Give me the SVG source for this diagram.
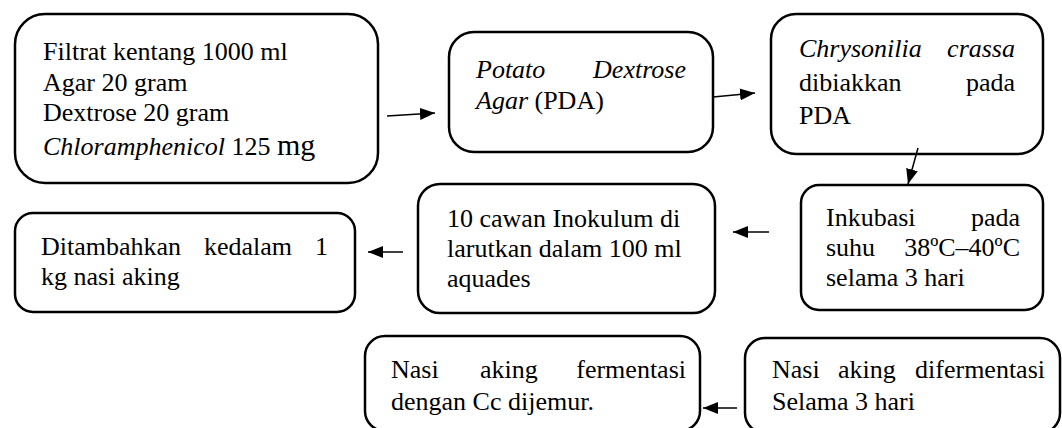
<svg xmlns="http://www.w3.org/2000/svg" width="1062" height="428" viewBox="0 0 1062 428">
<style>
.box{fill:#fff;stroke:#000;stroke-width:2.5}
text{font-family:"Liberation Serif","Times New Roman",serif;font-size:26px;fill:#000}
.i{font-style:italic}
.e{text-anchor:end}
.c line{stroke:#000;stroke-width:1.5;marker-end:url(#ah)}
</style>
<defs>
<marker id="ah" markerUnits="userSpaceOnUse" markerWidth="16" markerHeight="12" refX="15" refY="6" orient="auto">
<path d="M0,0 L15,6 L0,12 Z" fill="#000"/>
</marker>
</defs>
<rect width="1062" height="428" fill="#fff"/>
<g id="n1">
<rect class="box" x="15" y="14" width="363" height="169" rx="30"/>
<text x="43" y="60">Filtrat kentang 1000 ml</text>
<text x="43" y="91">Agar 20 gram</text>
<text x="43" y="121">Dextrose 20 gram</text>
<text x="43" y="155"><tspan class="i">Chloramphenicol</tspan> 125 <tspan style="font-size:30px">mg</tspan></text>
</g>
<g id="n2">
<rect class="box" x="449" y="32" width="264" height="120" rx="25"/>
<text class="i" x="476" y="78">Potato</text>
<text class="i e" x="686" y="78">Dextrose</text>
<text x="476" y="109"><tspan class="i">Agar</tspan> (PDA)</text>
</g>
<g id="n3">
<rect class="box" x="771" y="14" width="272" height="140" rx="25"/>
<text class="i" x="799" y="57">Chrysonilia</text>
<text class="i e" x="1015" y="57">crassa</text>
<text x="799" y="91">dibiakkan</text>
<text class="e" x="1015" y="91">pada</text>
<text x="799" y="124">PDA</text>
</g>
<g id="n4">
<rect class="box" x="801" y="185" width="242" height="125" rx="18"/>
<text x="826" y="226">Inkubasi</text>
<text class="e" x="1020" y="226">pada</text>
<text x="826" y="256">suhu</text>
<text class="e" x="1020" y="256">38ºC–40ºC</text>
<text x="826" y="286">selama 3 hari</text>
</g>
<g id="n5">
<rect class="box" x="418" y="184" width="297" height="129" rx="22"/>
<text x="447" y="227">10 cawan Inokulum di</text>
<text x="447" y="257">larutkan dalam 100 ml</text>
<text x="447" y="287">aquades</text>
</g>
<g id="n6">
<rect class="box" x="15" y="213" width="340" height="99" rx="18"/>
<text x="41" y="255">Ditambahkan</text>
<text x="204" y="255">kedalam</text>
<text class="e" x="328" y="255">1</text>
<text x="41" y="285">kg nasi aking</text>
</g>
<g id="n7">
<rect class="box" x="365" y="336" width="335" height="95" rx="20"/>
<text x="391" y="378">Nasi</text>
<text x="480" y="378">aking</text>
<text class="e" x="686" y="378">fermentasi</text>
<text x="391" y="410">dengan Cc dijemur.</text>
</g>
<g id="n8">
<rect class="box" x="745" y="338" width="315" height="95" rx="20"/>
<text x="772" y="378">Nasi</text>
<text x="838" y="378">aking</text>
<text class="e" x="1045" y="378">difermentasi</text>
<text x="772" y="410">Selama 3 hari</text>
</g>
<g id="connectors" class="c">
<line x1="387" y1="116" x2="435" y2="113"/>
<line x1="713" y1="97" x2="755" y2="93"/>
<line x1="918" y1="148" x2="908" y2="184"/>
<line x1="769" y1="232" x2="733" y2="232"/>
<line x1="403" y1="252" x2="368" y2="252"/>
<line x1="737" y1="408" x2="703" y2="408"/>
</g>
</svg>
